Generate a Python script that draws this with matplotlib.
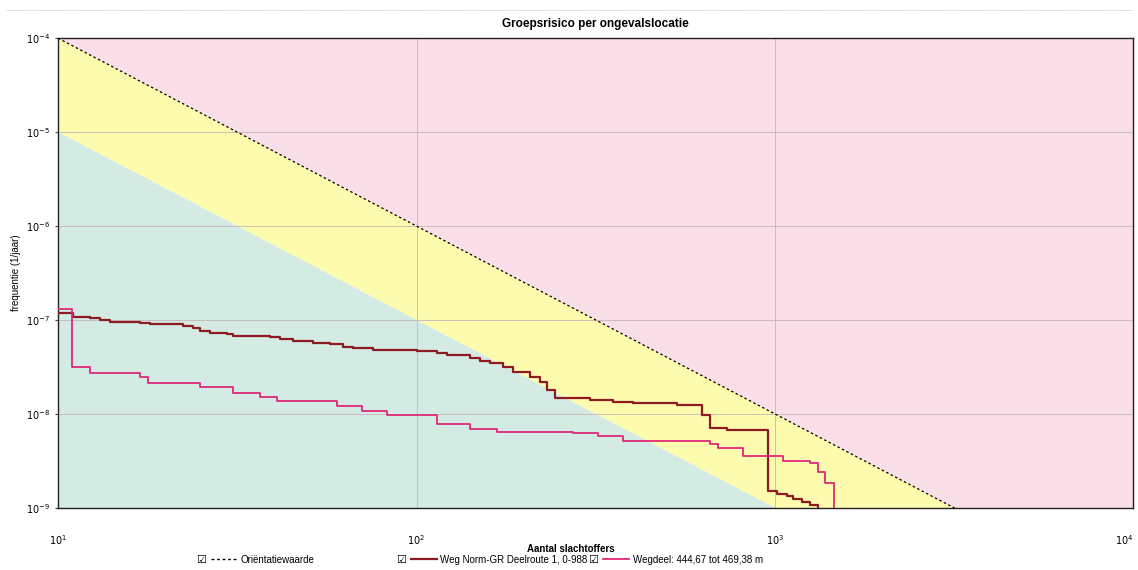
import matplotlib
matplotlib.use("Agg")
import matplotlib.pyplot as plt
from matplotlib.lines import Line2D

plt.rcParams['font.family'] = ['Liberation Sans', 'DejaVu Sans']

# orientatiewaarde en ondergrens (rechte lijnen in log-log)
orient_n = [10, 10000]
orient_f = [1e-4, 1e-10]
lower_n = [10, 10000]
lower_f = [1e-5, 1e-11]

x_ticks = [10, 100, 1000, 10000]
x_labels = ['$10^1$', '$10^2$', '$10^3$', '$10^4$']
y_ticks = [1e-9, 1e-8, 1e-7, 1e-6, 1e-5, 1e-4]
y_labels = ['$10^{-9}$', '$10^{-8}$', '$10^{-7}$', '$10^{-6}$', '$10^{-5}$', '$10^{-4}$']

# Weg Norm-GR Deelroute 1, 0-988
route_n = [10, 11.0, 12.3, 13.1, 14.0, 16.9, 18.1, 22.3, 23.8, 24.9, 26.5, 29.6, 30.8,
           39.0, 41.6, 45.2, 51.4, 57.4, 62.4, 66.5, 75.6, 100, 114, 122, 141, 150, 160,
           174, 186, 207, 221, 231, 243, 305, 353, 402, 533, 626, 659, 735, 956, 1013,
           1080, 1122, 1189, 1253, 1318]
route_f = [1.19e-7, 1.08e-7, 1.04e-7, 1.0e-7, 9.6e-8, 9.2e-8, 9.0e-8, 8.6e-8, 8.3e-8,
           7.7e-8, 7.3e-8, 7.1e-8, 6.8e-8, 6.6e-8, 6.3e-8, 6.0e-8, 5.7e-8, 5.5e-8, 5.2e-8,
           5.0e-8, 4.83e-8, 4.71e-8, 4.49e-8, 4.25e-8, 3.92e-8, 3.66e-8, 3.46e-8, 3.14e-8,
           2.8e-8, 2.46e-8, 2.21e-8, 1.8e-8, 1.49e-8, 1.41e-8, 1.35e-8, 1.30e-8, 1.25e-8,
           9.8e-9, 7.05e-9, 6.76e-9, 1.53e-9, 1.41e-9, 1.34e-9, 1.25e-9, 1.15e-9, 1.08e-9,
           5e-10]

# Wegdeel: 444,67 tot 469,38 m
wegdeel_n = [10, 10.94, 12.3, 16.9, 17.8, 24.9, 30.8, 36.6, 40.8, 60, 70.5, 82.7, 114,
             141, 168, 273, 321, 377, 659, 693, 814, 1052, 1253, 1318, 1378, 1461]
wegdeel_f = [1.30e-7, 3.18e-8, 2.71e-8, 2.46e-8, 2.12e-8, 1.92e-8, 1.69e-8, 1.53e-8,
             1.38e-8, 1.20e-8, 1.08e-8, 9.76e-9, 7.83e-9, 6.88e-9, 6.48e-9, 6.24e-9,
             5.83e-9, 5.2e-9, 4.8e-9, 4.31e-9, 3.57e-9, 3.16e-9, 2.99e-9, 2.38e-9,
             1.83e-9, 5e-10]

fig = plt.figure(figsize=(11.38, 5.70), dpi=100)
ax = fig.add_axes([0.051, 0.109, 0.945, 0.824])
ax.set_xscale('log')
ax.set_yscale('log')

# achtergrondvlakken
ax.fill_between(orient_n, orient_f, 1, color='#fadfe8', lw=0, zorder=0)
ax.fill_between(lower_n, lower_f, orient_f, color='#fcfbae', lw=0, zorder=0)
ax.fill_between(lower_n, 1e-14, lower_f, color='#d3ebe2', lw=0, zorder=0)

ax.plot(orient_n, orient_f, color='black', lw=0.9, ls=(0, (2, 2)), zorder=3)
ax.step(route_n, route_f, where='post', color='#8e1b22', lw=1.6, zorder=4)
ax.step(wegdeel_n, wegdeel_f, where='post', color='#e0287a', lw=1.3, zorder=4)

ax.set_xlim(10, 10000)
ax.set_ylim(1e-9, 1e-4)
ax.set_xticks(x_ticks, x_labels)
ax.set_yticks(y_ticks, y_labels)
ax.minorticks_off()
ax.grid(True, which='major', color='#c9b3b8', lw=0.6, zorder=1)
ax.tick_params(axis='both', labelsize=7, length=2, color='#444444')
ax.tick_params(axis='x', pad=18, length=0)
ax.xaxis.get_major_ticks()[-1].label1.set_horizontalalignment('right')
for s in ax.spines.values():
    s.set_color('#222222')
    s.set_linewidth(1.0)

ax.set_title('Groepsrisico per ongevalslocatie', fontsize=8.5, fontweight='bold', pad=8)
ax.set_ylabel('frequentie (1/jaar)', fontsize=7)
ax.yaxis.set_label_coords(-0.034, 0.5)
ax.set_xlabel('Aantal slachtoffers', fontsize=7, fontweight='bold')
ax.xaxis.set_label_coords(0.477, -0.077)

# legenda met vinkjes
ly = 0.018
legend_items = [
    (0.172, 'black', (0, (2, 2)), 1.0, 'Oriëntatiewaarde'),
    (0.348, '#8e1b22', '-', 1.6, 'Weg Norm-GR Deelroute 1, 0-988'),
    (0.517, '#e0287a', '-', 1.3, 'Wegdeel: 444,67 tot 469,38 m'),
]
for x0, col, ls, lw, lab in legend_items:
    fig.text(x0, ly, '\u2611', fontsize=8, family=['DejaVu Sans'], va='center')
    fig.add_artist(Line2D([x0 + 0.013, x0 + 0.036], [ly + 0.001, ly + 0.001],
                          color=col, ls=ls, lw=lw, transform=fig.transFigure))
    fig.text(x0 + 0.039, ly, lab, fontsize=7, va='center')

# stippellijn bovenaan de pagina
fig.add_artist(Line2D([0.005, 0.995], [0.982, 0.982], color='#bbbbbb', lw=0.6,
                      ls=(0, (1, 1)), transform=fig.transFigure))

fig.savefig('out.png', dpi=100)
